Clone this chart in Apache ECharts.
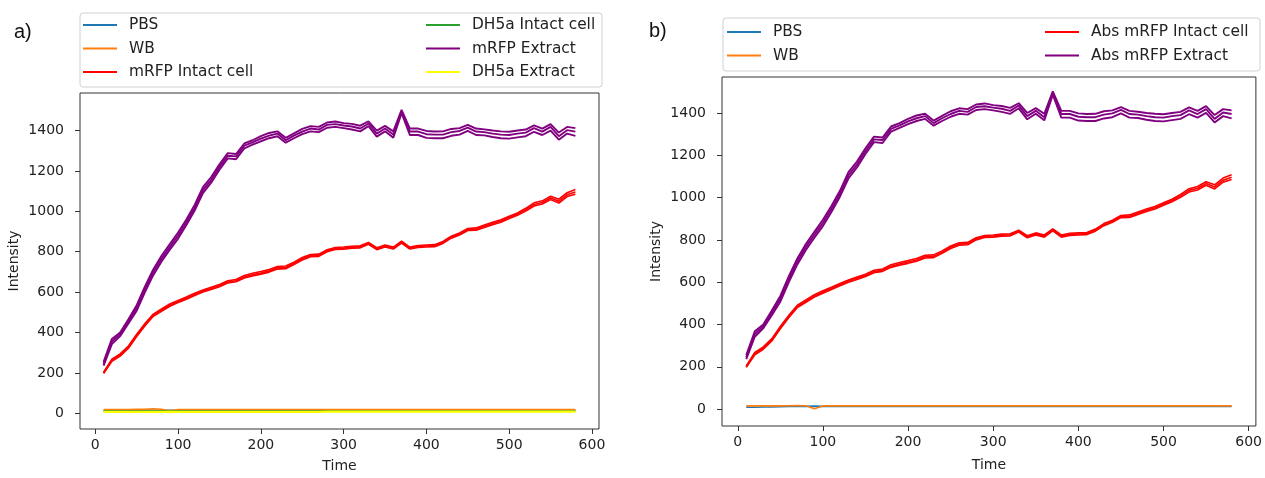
<!DOCTYPE html>
<html>
<head>
<meta charset="utf-8">
<script src="https://cdn.jsdelivr.net/npm/echarts@6/dist/echarts.min.js"></script>
<style>
    html, body { margin: 0; padding: 0; background: #fff; }
    #chart { width: 1265px; height: 478px; }
</style>
</head>
<body>
<div id="chart"></div>
<script>
var times = [10, 20, 30, 40, 50, 60, 70, 80, 90, 100, 110, 120, 130, 140, 150, 160, 170, 180, 190, 200,
    210, 220, 230, 240, 250, 260, 270, 280, 290, 300, 310, 320, 330, 340, 350, 360, 370, 380, 390, 400,
    410, 420, 430, 440, 450, 460, 470, 480, 490, 500, 510, 520, 530, 540, 550, 560, 570, 580];

var xTicks = [0, 100, 200, 300, 400, 500, 600];
var yTicks = [0, 200, 400, 600, 800, 1000, 1200, 1400];

// mRFP extract, three replicates
var extractMid = [245, 355, 392, 455, 522, 615, 698, 766, 824, 880,
    946, 1018, 1105, 1156, 1220, 1275, 1272, 1325, 1341, 1360,
    1375, 1385, 1352, 1375, 1395, 1410, 1405, 1428, 1432, 1425,
    1420, 1410, 1435, 1385, 1410, 1380, 1495, 1395, 1395, 1382,
    1380, 1380, 1392, 1398, 1415, 1395, 1392, 1385, 1380, 1378,
    1385, 1390, 1412, 1395, 1418, 1372, 1402, 1395];
var extractHigh = [255, 368, 400, 466, 535, 628, 712, 780, 838, 895,
    960, 1032, 1120, 1170, 1233, 1288, 1284, 1336, 1352, 1372,
    1388, 1396, 1364, 1386, 1408, 1422, 1418, 1440, 1445, 1437,
    1433, 1424, 1446, 1400, 1423, 1396, 1502, 1410, 1410, 1398,
    1395, 1396, 1408, 1412, 1428, 1410, 1406, 1400, 1396, 1394,
    1400, 1405, 1426, 1410, 1432, 1390, 1418, 1412];
var extractLow = [236, 342, 382, 444, 508, 600, 684, 752, 810, 865,
    932, 1004, 1090, 1142, 1206, 1262, 1258, 1312, 1330, 1347,
    1362, 1372, 1340, 1362, 1382, 1396, 1392, 1414, 1418, 1412,
    1405, 1396, 1422, 1370, 1396, 1365, 1486, 1378, 1378, 1364,
    1362, 1362, 1374, 1380, 1398, 1378, 1376, 1368, 1362, 1360,
    1366, 1372, 1394, 1378, 1400, 1355, 1385, 1374];

// mRFP intact cell, three replicates
var intactMid = [200, 262, 288, 327, 385, 438, 485, 510, 535, 553,
    570, 588, 605, 618, 632, 650, 656, 675, 686, 695,
    705, 720, 722, 742, 765, 780, 782, 805, 816, 818,
    822, 824, 842, 815, 828, 818, 848, 818, 826, 828,
    830, 846, 872, 888, 910, 912, 926, 940, 952, 970,
    986, 1008, 1034, 1044, 1066, 1050, 1082, 1096];
var intactHigh = [204, 268, 294, 333, 391, 444, 491, 516, 541, 559,
    576, 594, 610, 624, 638, 656, 662, 682, 693, 702,
    712, 727, 729, 748, 771, 786, 788, 810, 821, 823,
    827, 829, 846, 820, 833, 823, 852, 823, 831, 833,
    835, 851, 877, 893, 915, 918, 932, 946, 958, 976,
    992, 1015, 1042, 1052, 1075, 1060, 1092, 1108];
var intactLow = [197, 257, 283, 322, 380, 433, 480, 505, 530, 548,
    565, 583, 600, 613, 627, 645, 651, 670, 680, 689,
    699, 714, 716, 736, 759, 775, 777, 800, 811, 813,
    817, 819, 837, 810, 823, 813, 843, 813, 821, 823,
    825, 841, 867, 883, 905, 906, 920, 934, 946, 964,
    980, 1001, 1026, 1036, 1058, 1041, 1073, 1085];

// controls, panel a
var pbsA = [13, 13, 14, 14, 14, 14, 15, 15, 15, 14,
    14, 14, 14, 14, 14, 14, 14, 14, 14, 14,
    14, 14, 14, 14, 14, 14, 14, 14, 14, 14,
    14, 14, 14, 14, 14, 14, 14, 14, 14, 14,
    14, 14, 14, 14, 14, 14, 14, 14, 14, 14,
    14, 14, 14, 14, 14, 14, 14, 14];
var wbA = [18, 18, 18, 18, 19, 19, 22, 20, 12, 18,
    18, 18, 18, 18, 18, 18, 18, 18, 18, 18,
    18, 18, 18, 18, 18, 18, 18, 18, 18, 18,
    18, 18, 18, 18, 18, 18, 18, 18, 18, 18,
    18, 18, 18, 18, 18, 18, 18, 18, 18, 18,
    18, 18, 18, 18, 18, 18, 18, 18];
var dh5aIntactA = [11, 11, 11, 11, 11, 11, 11, 11, 11, 11,
    11, 11, 11, 11, 11, 11, 11, 11, 11, 11,
    11, 11, 11, 11, 11, 11, 11, 11, 11, 11,
    11, 11, 11, 11, 11, 11, 11, 11, 11, 11,
    11, 11, 11, 11, 11, 11, 11, 11, 11, 11,
    11, 11, 11, 11, 11, 11, 11, 11];
var dh5aExtractA = [7, 7, 7, 7, 7, 7, 7, 7, 7, 7,
    7, 7, 7, 7, 7, 7, 7, 7, 7, 7,
    7, 7, 7, 7, 7, 7, 7, 8, 8, 8,
    8, 8, 8, 8, 8, 8, 8, 8, 8, 8,
    8, 8, 8, 8, 8, 8, 8, 8, 8, 8,
    8, 8, 8, 8, 8, 8, 8, 8];

// controls, panel b
var pbsB = [9, 9, 10, 10, 11, 12, 12, 13, 14, 13,
    13, 13, 13, 13, 13, 13, 13, 13, 13, 13,
    13, 13, 13, 13, 13, 13, 13, 13, 13, 13,
    13, 13, 13, 13, 13, 13, 13, 13, 13, 13,
    13, 13, 13, 13, 13, 13, 13, 13, 13, 13,
    13, 13, 13, 13, 13, 13, 13, 13];
var wbB = [15, 15, 15, 15, 15, 16, 17, 16, 2, 15,
    15, 15, 15, 15, 15, 15, 15, 15, 15, 15,
    15, 15, 15, 15, 15, 15, 15, 15, 15, 15,
    15, 15, 15, 15, 15, 15, 15, 15, 15, 15,
    15, 15, 15, 15, 15, 15, 15, 15, 15, 15,
    15, 15, 15, 15, 15, 15, 15, 15];

var font = 'DejaVu Sans';
var ink = '#222';

function pairs(vals) {
    return vals.map(function(v, i) {
        return [times[i], v];
    });
}

function line(name, color, vals, idx, width) {
    return {
        name: name,
        type: 'line',
        xAxisIndex: idx,
        yAxisIndex: idx,
        data: pairs(vals),
        showSymbol: false,
        silent: true,
        color: color,
        lineStyle: { color: color, width: width || 1.6 }
    };
}

function plain(v) {
    return String(v);
}

function xAxisFor(idx, gap) {
    return {
        gridIndex: idx,
        type: 'value',
        min: -18.5,
        max: 608.5,
        name: 'Time',
        nameLocation: 'middle',
        nameGap: gap,
        nameTextStyle: { fontFamily: font, fontSize: 14, color: ink },
        axisLine: { show: false, onZero: false },
        splitLine: { show: false },
        axisTick: { show: true, length: 5, customValues: xTicks, lineStyle: { color: '#333' } },
        axisLabel: { customValues: xTicks, formatter: plain, margin: 9, fontFamily: font, fontSize: 14, color: ink }
    };
}

function yAxisFor(idx, lo, hi) {
    return {
        gridIndex: idx,
        type: 'value',
        min: lo,
        max: hi,
        name: 'Intensity',
        nameLocation: 'middle',
        nameGap: 59,
        nameTextStyle: { fontFamily: font, fontSize: 14, color: ink },
        axisLine: { show: false, onZero: false },
        splitLine: { show: false },
        axisTick: { show: true, length: 5, customValues: yTicks, lineStyle: { color: '#333' } },
        axisLabel: { customValues: yTicks, formatter: plain, margin: 16, fontFamily: font, fontSize: 14, color: ink }
    };
}

function legendCol(left, top, names) {
    return {
        left: left,
        top: top,
        orient: 'vertical',
        data: names,
        icon: 'rect',
        itemWidth: 34,
        itemHeight: 2,
        itemGap: 8.5,
        padding: 0,
        selectedMode: false,
        textStyle: { fontFamily: font, fontSize: 15.4, lineHeight: 15, color: ink, padding: [0, 0, 0, 7] }
    };
}

var chart = echarts.init(document.getElementById('chart'));

chart.setOption({
    animation: false,
    backgroundColor: '#fff',
    grid: [
        { left: 80, top: 93, width: 519, height: 340, show: true, borderColor: '#333', borderWidth: 1 },
        { left: 722, top: 77, width: 536, height: 349, show: true, borderColor: '#333', borderWidth: 1 }
    ],
    xAxis: [xAxisFor(0, 30), xAxisFor(1, 32)],
    yAxis: [yAxisFor(0, -78, 1586), yAxisFor(1, -80, 1570)],
    legend: [
        legendCol(83, 17.5, ['PBS', 'WB', 'mRFP Intact cell']),
        legendCol(426, 17.5, ['DH5a Intact cell', 'mRFP Extract', 'DH5a Extract']),
        legendCol(727, 24.5, ['PBS', 'WB']),
        legendCol(1045, 24.5, ['Abs mRFP Intact cell', 'Abs mRFP Extract'])
    ],
    graphic: [
        { type: 'rect', z: 0, shape: { x: 80, y: 13, width: 522, height: 74, r: 3 },
          style: { fill: '#fff', stroke: '#d0d0d0', lineWidth: 1 } },
        { type: 'rect', z: 0, shape: { x: 723, y: 18, width: 537, height: 53, r: 3 },
          style: { fill: '#fff', stroke: '#d0d0d0', lineWidth: 1 } },
        { type: 'text', left: 14, top: 22,
          style: { text: 'a)', fontFamily: 'Liberation Sans', fontSize: 20, fill: '#111' } },
        { type: 'text', left: 649, top: 21,
          style: { text: 'b)', fontFamily: 'Liberation Sans', fontSize: 20, fill: '#111' } }
    ],
    series: [
        // panel a
        line('PBS', '#1f77b4', pbsA, 0),
        line('WB', '#ff7f0e', wbA, 0),
        line('mRFP Intact cell', '#ff0000', intactHigh, 0),
        line('mRFP Intact cell', '#ff0000', intactMid, 0),
        line('mRFP Intact cell', '#ff0000', intactLow, 0),
        line('DH5a Intact cell', '#2ca02c', dh5aIntactA, 0),
        line('mRFP Extract', '#800080', extractHigh, 0, 1.9),
        line('mRFP Extract', '#800080', extractMid, 0, 1.9),
        line('mRFP Extract', '#800080', extractLow, 0, 1.9),
        line('DH5a Extract', '#ffff00', dh5aExtractA, 0, 2.2),
        // panel b
        line('PBS', '#1f77b4', pbsB, 1),
        line('WB', '#ff7f0e', wbB, 1),
        line('Abs mRFP Intact cell', '#ff0000', intactHigh, 1),
        line('Abs mRFP Intact cell', '#ff0000', intactMid, 1),
        line('Abs mRFP Intact cell', '#ff0000', intactLow, 1),
        line('Abs mRFP Extract', '#800080', extractHigh, 1, 1.9),
        line('Abs mRFP Extract', '#800080', extractMid, 1, 1.9),
        line('Abs mRFP Extract', '#800080', extractLow, 1, 1.9)
    ]
});
</script>
</body>
</html>
